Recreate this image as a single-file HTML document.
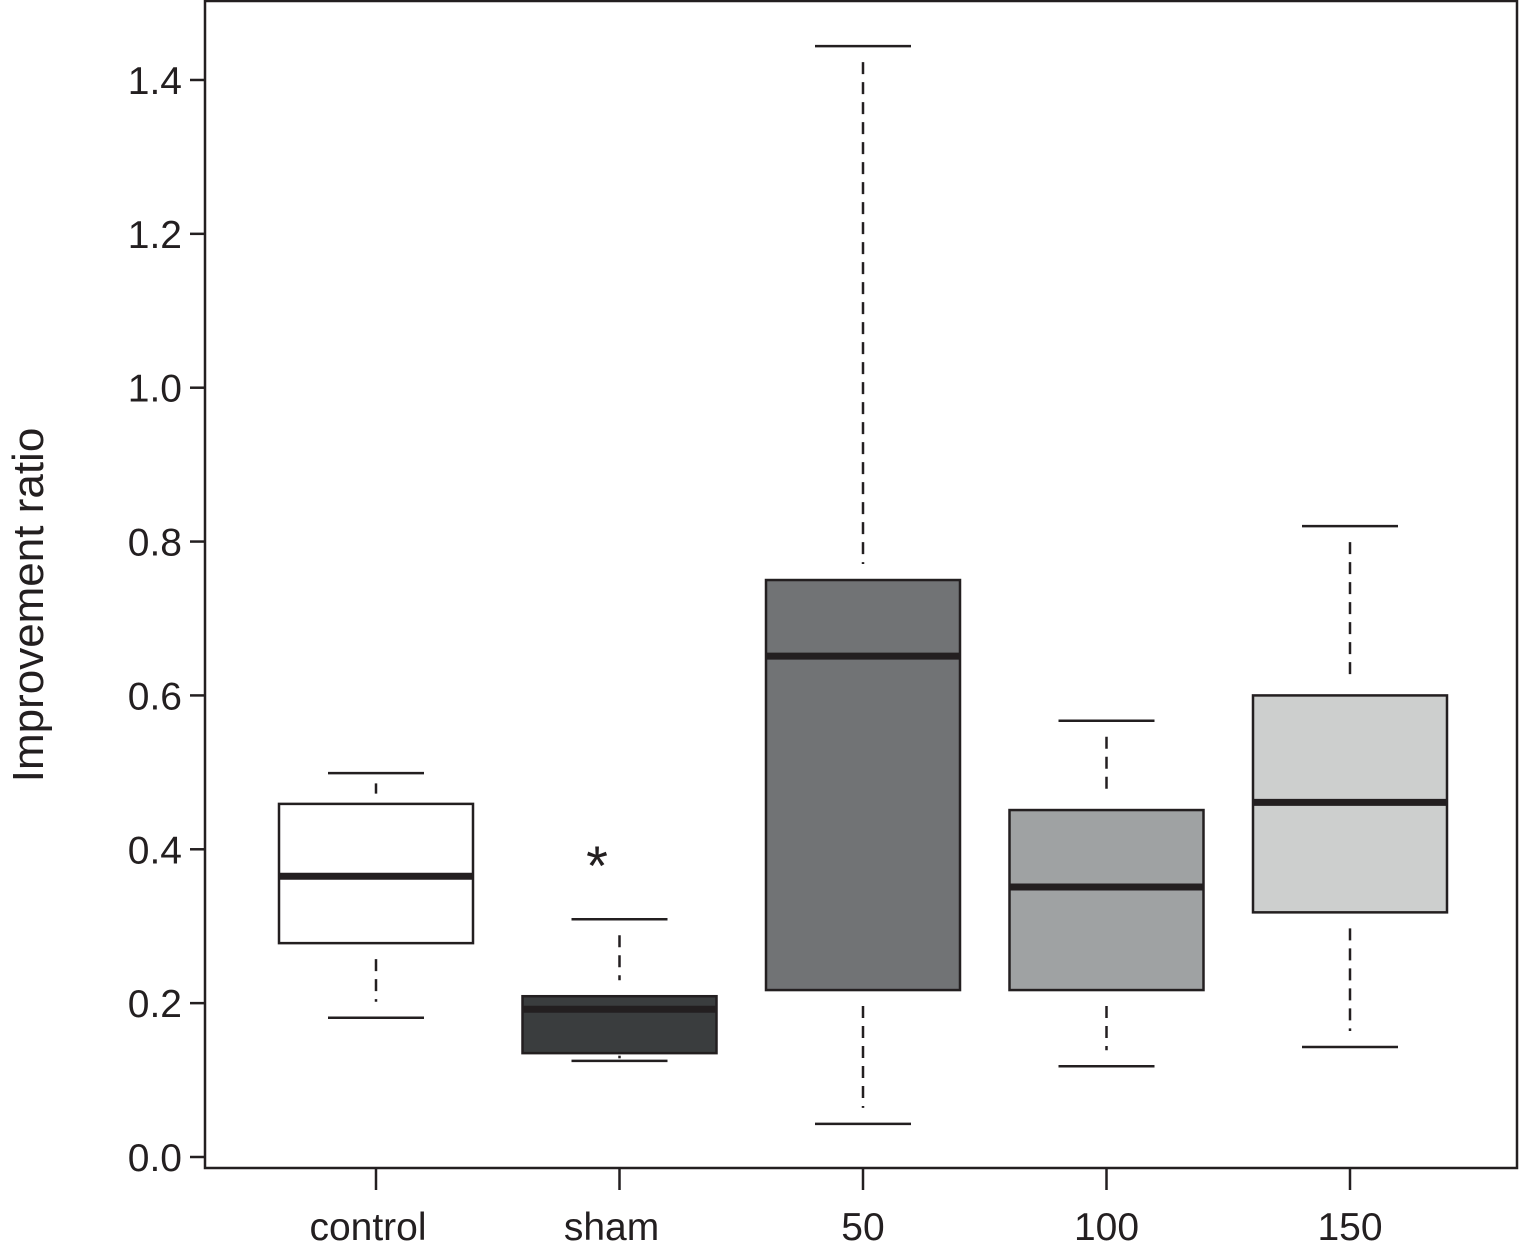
<!DOCTYPE html>
<html><head><meta charset="utf-8"><style>
body{margin:0;background:#fff;}
svg text{font-family:"Liberation Sans",Arial,sans-serif;fill:#231f20;}
</style></head><body>
<svg id="chart" width="1521" height="1249" xmlns="http://www.w3.org/2000/svg">
<rect x="205" y="1" width="1312" height="1167" fill="none" stroke="#231f20" stroke-width="2.5"/>
<text transform="translate(43,605) rotate(-90)" text-anchor="middle" font-size="44">Improvement ratio</text>
<text x="597" y="885" text-anchor="middle" font-size="56" font-family="Liberation Serif">*</text>
<g id="g"></g>
</svg>
<script>
const categories=["control","sham","50","100","150"];
const whiskerLow=[0.181,0.125,0.043,0.118,0.143];
const q1=[0.278,0.135,0.217,0.217,0.318];
const median=[0.365,0.192,0.651,0.351,0.461];
const q3=[0.459,0.209,0.750,0.451,0.600];
const whiskerHigh=[0.499,0.309,1.444,0.567,0.820];
const fills=["#ffffff","#3a3d3e","#717375","#9fa2a3","#cdcfce"];
const yTicks=[0,0.2,0.4,0.6,0.8,1.0,1.2,1.4];
const yTickLabels=["0.0","0.2","0.4","0.6","0.8","1.0","1.2","1.4"];
const y=v=>1157-v*769.3;
const x=i=>376+i*243.5;
const g=document.getElementById('g');
const NS="http://www.w3.org/2000/svg";
function mk(t,a){const e=document.createElementNS(NS,t);for(const k in a)e.setAttribute(k,a[k]);g.appendChild(e);return e;}
yTicks.forEach((v,i)=>{
 const l=mk('line',{x1:190,x2:205,y1:y(v),y2:y(v),stroke:'#231f20','stroke-width':2.5});
 
 
 const t=mk('text',{x:182,y:y(v)+14,'text-anchor':'end','font-size':39});
 t.textContent=yTickLabels[i];
 
 
});
categories.forEach((c,i)=>{
 const cx=x(i),hw=97,cw=48;
 const tk=mk('line',{x1:cx,x2:cx,y1:1168,y2:1190,stroke:'#231f20','stroke-width':2.5});
 
 
 const t=mk('text',{x:cx-8*(i<2?1:0),y:1240,'text-anchor':'middle','font-size':39});
 t.textContent=c;
 
 
 const gapHi=Math.min(16,(y(q3[i])-y(whiskerHigh[i]))/3);
 const w1=mk('line',{x1:cx,x2:cx,y1:y(whiskerHigh[i])+gapHi,y2:y(q3[i])-gapHi,stroke:'#231f20','stroke-width':2.5,'stroke-dasharray':'12,8'});
 
 
 const gapLo=Math.min(16,(y(whiskerLow[i])-y(q1[i]))/3);
 const w2=mk('line',{x1:cx,x2:cx,y1:y(q1[i])+gapLo,y2:y(whiskerLow[i])-gapLo,stroke:'#231f20','stroke-width':2.5,'stroke-dasharray':'12,8'});
 
 
 [whiskerHigh[i],whiskerLow[i]].forEach(v=>{
  const cp=mk('line',{x1:cx-cw,x2:cx+cw,y1:y(v),y2:y(v),stroke:'#231f20','stroke-width':2.5});
  
  
 });
 const b=mk('rect',{x:cx-hw,y:y(q3[i]),width:2*hw,height:y(q1[i])-y(q3[i]),fill:fills[i],stroke:'#231f20','stroke-width':2.5});
 
 
 const m=mk('line',{x1:cx-hw,x2:cx+hw,y1:y(median[i]),y2:y(median[i]),stroke:'#231f20','stroke-width':7});
 
 
});
</script>
</body></html>
